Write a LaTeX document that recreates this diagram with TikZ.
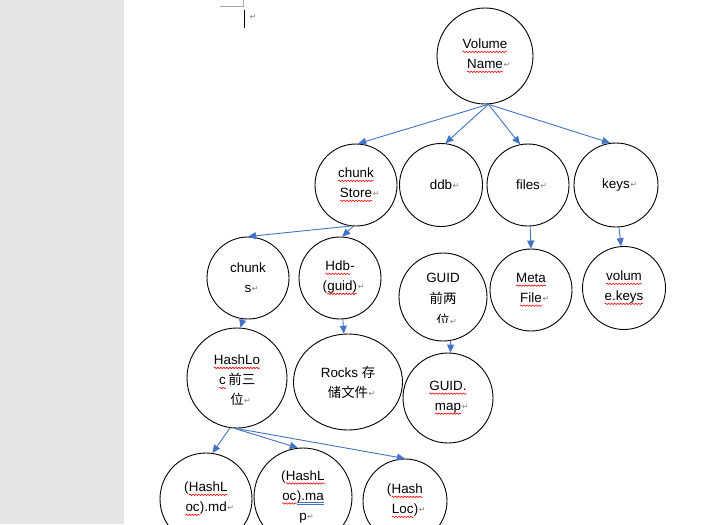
\documentclass[tikz,border=0pt]{standalone}
\usepackage{fontspec}
\setmainfont{Liberation Sans}
\newfontfamily\cjk{Noto Sans CJK SC}
\newfontfamily\symf{DejaVu Sans}
\usetikzlibrary{arrows.meta,shapes.geometric,decorations.pathmorphing}
\definecolor{wordblue}{HTML}{4472C4}
\definecolor{pagegray}{HTML}{E6E6E6}
\definecolor{markgray}{HTML}{A6A6A6}
\tikzset{plainbox/.style={shape=rectangle,draw=none,fill=none,inner sep=0pt,outer sep=0pt,
  minimum size=0pt,minimum width=0pt,minimum height=0pt,align=left}}
\newcommand\pmk{\rlap{\kern0.5pt\raisebox{1pt}{\symf\fontsize{8}{8}\selectfont\textcolor{gray}{↵}}}}
\newcommand\tallstrut{\rule{0pt}{15pt}}
\newcommand\rw[1]{\tikz[baseline=(rwx.base)]{\node[plainbox](rwx){#1};
  \draw[red,line width=0.6pt,decorate,decoration={snake,amplitude=0.7pt,segment length=3pt}]
   ([yshift=-3pt]rwx.base west) -- ([yshift=-3pt]rwx.base east);}}
\newcommand\bu[1]{\tikz[baseline=(bux.base)]{\node[plainbox](bux){#1};
  \draw[wordblue,line width=0.5pt] ([yshift=-2pt]bux.base west) -- ([yshift=-2pt]bux.base east)
   ([yshift=-3.6pt]bux.base west) -- ([yshift=-3.6pt]bux.base east);}}
\begin{document}
\begin{tikzpicture}[x=1pt,y=-1pt,
  bub/.style={circle,draw=black,line width=0.9pt,inner sep=0pt,align=center,
    font=\fontsize{13.4}{20}\selectfont},
  arr/.style={draw=wordblue,line width=0.9pt,-{Triangle[length=8pt,width=7pt]}}]
\useasboundingbox (0,0) rectangle (708,524);
\clip (0,0) rectangle (708,524);
\fill[pagegray] (0,0) rectangle (124,524);
% word page artifacts
\draw[markgray,line width=1pt] (220,7) -- (243,7) -- (243,0);
\draw[black,line width=1pt] (244,10) -- (244,28);
\node[inner sep=0pt] (cur) at (249,17) {\pmk};
% circles
\node[bub,minimum size=96] (vol) at (485,56) {\rw{Volume}\\\rw{Name}\pmk};
\node[bub,minimum size=82] (cs) at (356,185) {\rw{chunk}\\\rw{Store}\pmk};
\node[bub,minimum size=83] (ddb) at (441,185) {ddb\pmk};
\node[bub,minimum size=82] (files) at (528,185) {files\pmk};
\node[bub,minimum size=84] (keys) at (616,185) {keys\pmk};
\node[bub,minimum size=82] (chunks) at (248,278) {chunk\\s\pmk};
\node[bub,minimum size=82] (hdb) at (340,278) {\rw{Hdb}-\\(\rw{guid)}\pmk};
\node[bub,minimum size=88,font=\fontsize{13.4}{21.5}\selectfont] (guid) at (443,297) {\tallstrut GUID\\{\cjk 前两}\\{\cjk 位}\pmk};
\fill[white] (425,322.5) rectangle (465,334);
\node[bub,minimum size=82] (meta) at (531,290) {\rw{Meta}\\\rw{File}\pmk};
\node[bub,minimum size=83] (vk) at (624,288) {\rw{volum}\\\rw{e.keys}};
\node[bub,minimum size=100] (hl) at (237,378) {\tallstrut\rw{HashLo}\\\rw{c}\,{\cjk 前三}\\{\cjk 位}\pmk};
\node[bub,ellipse,minimum width=109,minimum height=96] (rocks) at (348,382) {Rocks {\cjk 存}\\{\cjk 储文件}\pmk};
\node[bub,minimum size=90] (gmap) at (448,398) {\rw{GUID.}\\\rw{map}\pmk};
\node[bub,minimum size=92] (md) at (206,499) {(\rw{HashL}\\\rw{oc}).md\pmk};
\node[bub,minimum size=98] (mp) at (303,497) {(\rw{HashL}\\\rw{oc}\bu{).ma}\\p\pmk};
\node[bub,minimum size=84] (hlc) at (405,501) {(\rw{Hash}\\\rw{Loc})\pmk};
% connectors
\draw[arr] (vol.-86) -- (cs.87);
\draw[arr] (vol.-86) -- (ddb.84);
\draw[arr] (vol.-86) -- (files.101);
\draw[arr] (vol.-86) -- (keys.98);
\draw[arr] (cs.-98) -- (chunks.north);
\draw[arr] (cs.-94) -- (hdb.87);
\draw[arr] (chunks.-97) -- (hl.86);
\draw[arr] (hdb.-86) -- (rocks.95);
\draw[arr] (files.-87) -- (meta.north);
\draw[arr] (keys.-86) -- (vk.94);
\draw[arr] (guid.-80) -- (gmap.87);
\draw[arr] (hl.-98) -- (md.82);
\draw[arr] (hl.-93) -- (mp.96);
\draw[arr] (hl.-91) -- (hlc.north);
\end{tikzpicture}
\end{document}
